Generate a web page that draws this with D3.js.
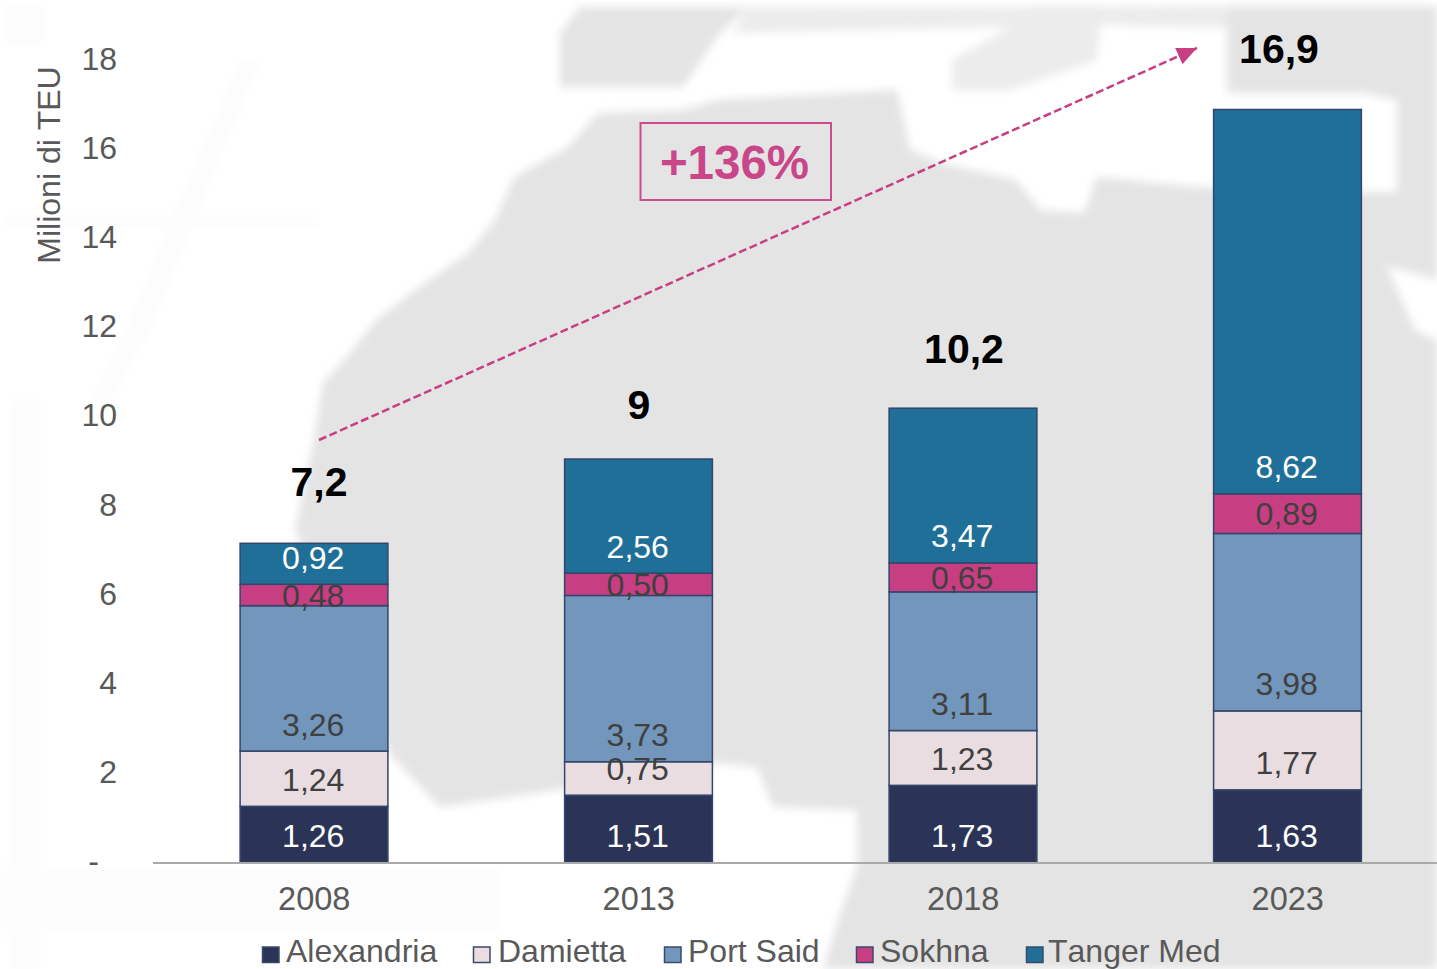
<!DOCTYPE html>
<html><head><meta charset="utf-8">
<script src="https://cdnjs.cloudflare.com/ajax/libs/d3/7.8.5/d3.min.js"></script>
<style>html,body{margin:0;padding:0;background:#fff;overflow:hidden}svg{display:block;font-family:"Liberation Sans",Arial,sans-serif;font-kerning:none}</style>
</head><body><svg id="c" width="1437" height="969"></svg>
<script>
const years=["2008","2013","2018","2023"];
const seriesNames=["Alexandria","Damietta","Port Said","Sokhna","Tanger Med"];
const alexandria=[1.26,1.51,1.73,1.63];
const damietta=[1.24,0.75,1.23,1.77];
const portSaid=[3.26,3.73,3.11,3.98];
const sokhna=[0.48,0.50,0.65,0.89];
const tangerMed=[0.92,2.56,3.47,8.62];
const totals=["7,2","9","10,2","16,9"];
const yTicks=[0,2,4,6,8,10,12,14,16,18];
const colors=["#2b3456","#eadde1","#7296bc","#c83e82","#1f6f99"];
const faintShapes=[
 [[5,5],[45,5],[45,45],[5,45]],
 [[5,217],[320,217],[320,227],[5,227]],
 [[0,870],[500,870],[500,930],[0,930]],
 [[240,60],[260,60],[150,330],[110,400],[90,400],[130,320]],
 [[10,400],[40,400],[40,969],[10,969]]
];
const landShapes=[
 [[315,433],[323,383],[350,353],[376,320],[415,290],[468,253],[495,220],[514,177],[568,147],[598,113],[683,110],[717,100],[897,90],[910,150],[942,163],[1016,180],[1040,210],[1085,213],[1096,177],[1198,187],[1363,192],[1397,192],[1437,190],[1437,969],[823,969],[837,923],[857,867],[857,810],[773,807],[757,767],[713,763],[557,790],[440,807],[392,757],[295,530]],
 [[1227,6],[1437,6],[1437,200],[1397,192],[1397,100],[1363,93],[1227,93]],
 [[560,33],[580,7],[748,7],[720,33],[683,87],[560,87]]
];
const lightShapes=[
 [[748,7],[1227,6],[1227,28],[1100,25],[1097,60],[1011,90],[952,90],[952,60],[1011,27],[733,33]],
 [[1030,6],[1097,6],[1097,60],[1030,60]]
];
const seaShapes=[[[1387,266],[1437,280],[1437,340],[1415,330]]];

const svg=d3.select("#c");
const x=d3.scaleBand().domain(years).range([152.5,1449.5]).paddingInner(0.543).paddingOuter(0.27);
const y=d3.scaleLinear().domain([0,18]).range([862.5,60]);

// background map
const defs=svg.append("defs");
defs.append("filter").attr("id","b").attr("x","-10%").attr("y","-10%").attr("width","120%").attr("height","120%")
  .append("feGaussianBlur").attr("stdDeviation",4.5);
const line=d3.line().curve(d3.curveLinearClosed);
const bg=svg.append("g").attr("filter","url(#b)");
bg.selectAll("path.f").data(faintShapes).join("path").attr("class","f").attr("d",line).attr("fill","#fcfcfc");
bg.selectAll("path.h").data(lightShapes).join("path").attr("class","h").attr("d",line).attr("fill","#ececec");
bg.selectAll("path.l").data(landShapes).join("path").attr("class","l").attr("d",line).attr("fill","#e4e4e4");
bg.selectAll("path.s").data(seaShapes).join("path").attr("class","s").attr("d",line).attr("fill","#fff");

// stacks
const rows=years.map((yr,i)=>({year:yr,Alexandria:alexandria[i],Damietta:damietta[i],"Port Said":portSaid[i],Sokhna:sokhna[i],"Tanger Med":tangerMed[i]}));
const stacked=d3.stack().keys(seriesNames)(rows);
const g=svg.append("g");
stacked.forEach((layer,si)=>{
  g.selectAll(null).data(layer).join("rect")
   .attr("x",d=>x(d.data.year))
   .attr("width",x.bandwidth()-0.5)
   .attr("y",d=>y(d[1]))
   .attr("height",d=>y(d[0])-y(d[1]))
   .attr("fill",colors[si])
   .attr("stroke","#33456b").attr("stroke-width",1.5);
});
stacked.forEach((layer,si)=>{
  g.selectAll(null).data(layer).join("text")
   .attr("x",d=>x(d.data.year)+x.bandwidth()/2-1)
   .attr("y",d=>(si===3?(y(d[0])+y(d[1]))/2+0.5:y(d[0])-26.5)+11)
   .attr("text-anchor","middle").attr("font-size",32)
   .attr("fill",(si===0||si===4)?"#ffffff":"#404040")
   .text(d=>d3.format(".2f")(d[1]-d[0]).replace(".",","));
});

// axes
const ax=svg.append("g").attr("transform","translate(117,0)")
  .call(d3.axisLeft(y).tickValues(yTicks).tickSize(0).tickPadding(0).tickFormat(d=>d===0?"-":d));
ax.select(".domain").remove();
ax.selectAll("text").attr("font-size",32).attr("font-family","Liberation Sans").attr("fill","#595959").attr("dy","0.29em");
ax.selectAll(".tick").filter(d=>d===0).select("text").attr("x",-18);

const bx=svg.append("g").attr("transform","translate(0,862.5)")
  .call(d3.axisBottom(x).tickSize(0).tickPadding(0));
bx.select(".domain").attr("stroke","#aaaaaa").attr("stroke-width",2);
bx.selectAll("text").attr("font-size",32.5).attr("font-family","Liberation Sans").attr("fill","#595959").attr("y",47).attr("dy",0);

svg.append("text").attr("transform","translate(60,165) rotate(-90)").attr("text-anchor","middle")
  .attr("font-size",32).attr("fill","#595959").text("Milioni di TEU");

// totals
const totalX=[319,639,964,1279], totalBase=[496,419,363,63];
svg.selectAll(null).data(totals).join("text")
  .attr("x",(d,i)=>totalX[i]).attr("y",(d,i)=>totalBase[i])
  .attr("text-anchor","middle").attr("font-size",41).attr("font-weight","bold").attr("fill","#000").text(d=>d);

// growth arrow
const mg="#c83e82";
defs.append("marker").attr("id","ah").attr("markerUnits","userSpaceOnUse").attr("markerWidth",22).attr("markerHeight",20)
  .attr("refX",20).attr("refY",9).attr("orient","auto")
  .append("path").attr("d","M0,0L20,9L0,18Z").attr("fill",mg);
svg.append("line").attr("x1",319).attr("y1",440).attr("x2",1197).attr("y2",48)
  .attr("stroke",mg).attr("stroke-width",2.5).attr("stroke-dasharray","8 3.5").attr("marker-end","url(#ah)");
svg.append("rect").attr("x",640.5).attr("y",123).attr("width",190.5).attr("height",77)
  .attr("fill","none").attr("stroke","#cb4b8c").attr("stroke-width",2);
svg.append("text").attr("x",734.5).attr("y",179).attr("text-anchor","middle").attr("font-size",47.5)
  .attr("font-weight","bold").attr("fill","#c9468a").text("+136%");

// legend
const legSwatch=[262.5,473.5,664.5,856.5,1026.5], legText=[286,498,688,880,1048];
const leg=svg.append("g");
seriesNames.forEach((n,i)=>{
  leg.append("rect").attr("x",legSwatch[i]).attr("y",947).attr("width",16.5).attr("height",15.5).attr("fill",colors[i]).attr("stroke","#3b4a6b").attr("stroke-width",1.5);
  leg.append("text").attr("x",legText[i]).attr("y",962).attr("font-size",32).attr("fill","#595959").text(n);
});
</script></body></html>
